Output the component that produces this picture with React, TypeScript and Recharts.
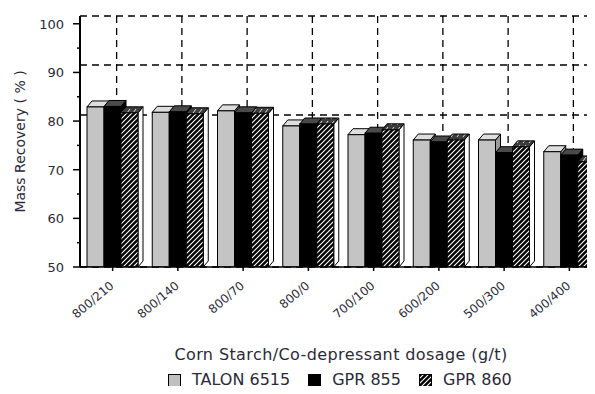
import React from "react"
import { Bar, BarChart, CartesianGrid, XAxis, YAxis } from "recharts"

const categories = ["800/210", "800/140", "800/70", "800/0", "700/100", "600/200", "500/300", "400/400"]
const talon6515 = [82.9, 81.8, 82.1, 79.0, 77.2, 76.1, 76.1, 73.7]
const gpr855 = [83.0, 81.9, 81.7, 79.4, 77.5, 75.7, 73.5, 73.0]
const gpr860 = [81.7, 81.5, 81.6, 79.4, 78.2, 76.1, 74.7, 71.6]
const yTicks = [50, 55, 60, 65, 70, 75, 80, 85, 90, 95, 100]
const gridTicks = [80, 90]

const data = categories.map((c, i) => ({
  name: c,
  talon: talon6515[i],
  g855: gpr855[i],
  g860: gpr860[i],
}))

const FONT = "DejaVu Sans, Verdana, sans-serif"
const TEXT = "#2b2a38"

// bar with a little 3D top + side face
const make3D = (front: string, top: string, side: string) => (props: any) => {
  const { x, y, width: w, height: h } = props
  if (h == null || !w) return <g />
  const dx = 5
  const dy = 6
  const b = y + h
  return (
    <g>
      <polygon
        points={`${x + w},${y} ${x + w + dx},${y - dy} ${x + w + dx},${b - dy} ${x + w},${b}`}
        fill={side}
        stroke="#000"
        strokeWidth={1}
      />
      <polygon
        points={`${x},${y} ${x + dx},${y - dy} ${x + w + dx},${y - dy} ${x + w},${y}`}
        fill={top}
        stroke="#000"
        strokeWidth={1}
      />
      <rect x={x} y={y} width={w} height={h} fill={front} stroke="#000" strokeWidth={1} />
    </g>
  )
}

const YTick = ({ x, y, payload }: any) => {
  const major = payload.value % 10 === 0
  const axisX = x + 16
  return (
    <g>
      <line x1={axisX - (major ? 7 : 3)} x2={axisX} y1={y} y2={y} stroke="#000" strokeWidth={1.5} />
      {major && (
        <text x={x} y={y} dy={5} textAnchor="end" fontSize={13} fontFamily={FONT} fill={TEXT}>
          {payload.value}
        </text>
      )}
    </g>
  )
}

const XTick = ({ x, y, payload }: any) => (
  <text
    x={x + 2}
    y={y + 14}
    textAnchor="end"
    fontSize={12}
    fontFamily={FONT}
    fill={TEXT}
    transform={`rotate(-40 ${x + 2} ${y + 14})`}
  >
    {payload.value}
  </text>
)

const legendItems = [
  { label: "TALON 6515", fill: "#c0c0c0" },
  { label: "GPR 855", fill: "#000" },
  { label: "GPR 860", fill: "url(#hatch)" },
]

export default function App() {
  return (
    <div
      style={{
        margin: -8,
        width: 595,
        height: 394,
        overflow: "hidden",
        position: "relative",
        background: "#fff",
        fontFamily: FONT,
      }}
    >
      <svg width={0} height={0} style={{ position: "absolute" }}>
        <defs>
          <pattern id="hatch" patternUnits="userSpaceOnUse" width={5} height={5}>
            <rect width={5} height={5} fill="#000" />
            <path d="M-1,1 L1,-1 M0,5 L5,0 M4,6 L6,4" stroke="#fff" strokeWidth={1.1} />
          </pattern>
          <pattern id="hatchTop" patternUnits="userSpaceOnUse" width={6} height={6}>
            <rect width={6} height={6} fill="#3c3c3c" />
            <path d="M1,5 L4,1" stroke="#ddd" strokeWidth={1} />
          </pattern>
        </defs>
      </svg>

      <BarChart
        width={610}
        height={394}
        data={data}
        margin={{ top: 16, right: 8, bottom: 0, left: 0 }}
        barCategoryGap={7}
        barGap={0}
      >
        <CartesianGrid
          xAxisId="grid"
          yAxisId="grid"
          stroke="#000"
          strokeWidth={1.3}
          strokeDasharray="7 5"
        />
        <XAxis
          xAxisId="grid"
          dataKey="name"
          hide
          padding={{ left: 4, right: -4 }}
        />
        <YAxis yAxisId="grid" hide domain={[49.6, 99.8]} ticks={gridTicks} allowDataOverflow />
        <XAxis
          xAxisId="top"
          orientation="top"
          dataKey="name"
          height={0}
          tick={false}
          tickLine={false}
          axisLine={{ stroke: "#000", strokeWidth: 1.5 }}
        />
        <XAxis
          dataKey="name"
          height={127}
          interval={0}
          tickSize={4}
          tickMargin={2}
          tickLine={{ stroke: "#000", strokeWidth: 1.5 }}
          axisLine={{ stroke: "#000", strokeWidth: 1.5 }}
          tick={<XTick />}
          label={{
            value: "Corn Starch/Co-depressant dosage (g/t)",
            position: "insideBottom",
            offset: 34,
            fontSize: 16,
            fontFamily: FONT,
            fill: TEXT,
            style: { letterSpacing: "0.4px" },
          }}
        />
        <YAxis
          width={80}
          domain={[50, 101.6]}
          ticks={yTicks}
          interval={0}
          allowDataOverflow
          tickSize={7}
          tickMargin={9}
          tickLine={false}
          axisLine={{ stroke: "#000", strokeWidth: 2 }}
          tick={<YTick />}
          label={{
            value: "Mass Recovery ( % )",
            angle: -90,
            position: "insideLeft",
            offset: 20,
            fontSize: 14,
            fontFamily: FONT,
            fill: TEXT,
            style: { textAnchor: "middle" },
          }}
        />
        <Bar dataKey="talon" name="TALON 6515" isAnimationActive={false} shape={make3D("#c4c4c4", "#dedede", "#9a9a9a")} />
        <Bar dataKey="g855" name="GPR 855" isAnimationActive={false} shape={make3D("#000", "#4a4a4a", "#000")} />
        <Bar dataKey="g860" name="GPR 860" isAnimationActive={false} shape={make3D("url(#hatch)", "url(#hatchTop)", "#fff")} />
      </BarChart>

      <div
        style={{
          position: "absolute",
          left: 168,
          top: 372,
          height: 16,
          display: "flex",
          alignItems: "center",
          fontSize: 16,
          lineHeight: "16px",
          color: TEXT,
          whiteSpace: "nowrap",
        }}
      >
        {legendItems.map((it) => (
          <div key={it.label} style={{ display: "flex", alignItems: "center", marginRight: 18 }}>
            <svg width={13} height={13} style={{ marginRight: 11, display: "block" }}>
              <rect x={0.5} y={0.5} width={12} height={12} fill={it.fill} stroke="#000" />
            </svg>
            <span>{it.label}</span>
          </div>
        ))}
      </div>
    </div>
  )
}
